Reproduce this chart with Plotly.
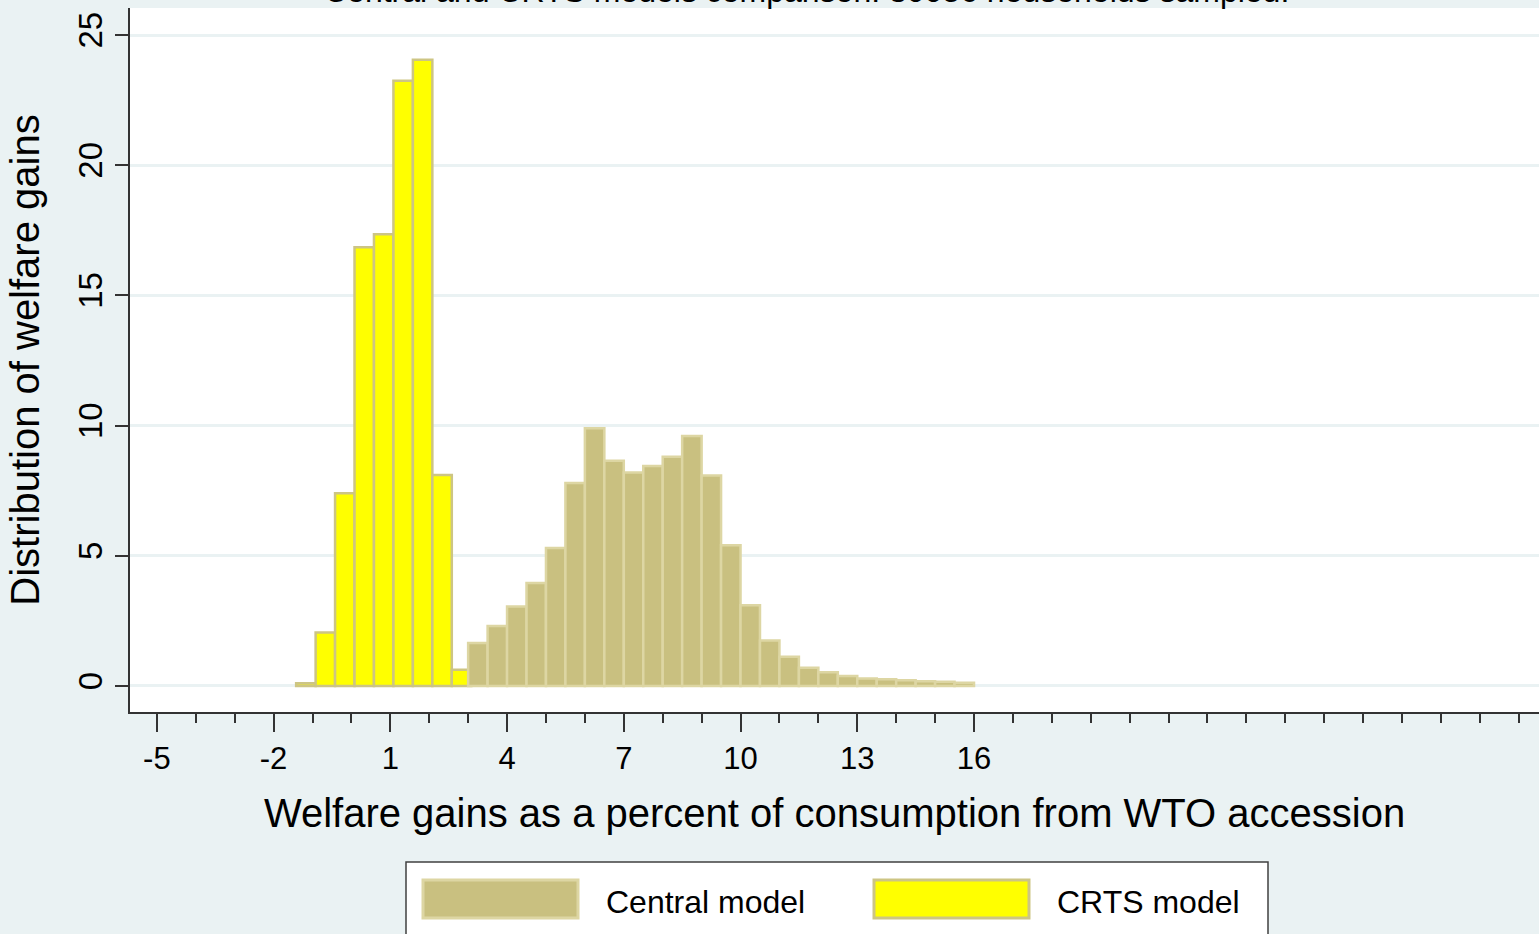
import plotly.graph_objects as go

# ---- data ----
bin_width = 0.5
crts_centers = [-1.17, -0.67, -0.17, 0.33, 0.83, 1.33, 1.83, 2.33, 2.83]
crts_values = [0.1, 2.05, 7.4, 16.85, 17.35, 23.25, 24.05, 8.1, 0.62]

central_centers = [3.25, 3.75, 4.25, 4.75, 5.25, 5.75, 6.25, 6.75, 7.25, 7.75,
                   8.25, 8.75, 9.25, 9.75, 10.25, 10.75, 11.25, 11.75, 12.25,
                   12.75, 13.25, 13.75, 14.25, 14.75, 15.25, 15.75]
central_values = [1.65, 2.3, 3.05, 3.95, 5.3, 7.8, 9.9, 8.65, 8.2, 8.45,
                  8.8, 9.6, 8.08, 5.4, 3.1, 1.75, 1.12, 0.7, 0.53, 0.38,
                  0.29, 0.26, 0.22, 0.18, 0.16, 0.12]

x_major_ticks = [-5, -2, 1, 4, 7, 10, 13, 16]
x_minor_ticks = list(range(-5, 31))
y_ticks = [0, 5, 10, 15, 20, 25]

title_text = "Central and CRTS models comparison: 30056 households sampled."
x_title = "Welfare gains as a percent of consumption from WTO accession"
y_title = "Distribution of welfare gains"
legend_labels = ["Central model", "CRTS model"]

KHAKI = "#c9c080"
KHAKI_LINE = "#ddd6a3"
YELLOW = "#ffff00"
YELLOW_LINE = "#cdc584"
BG = "#eaf2f3"
FONT = "Liberation Sans, Arial, sans-serif"

fig = go.Figure()
fig.add_trace(go.Bar(x=crts_centers, y=crts_values, width=bin_width,
                     name=legend_labels[1], showlegend=False,
                     marker=dict(color=YELLOW, line=dict(color=YELLOW_LINE, width=2.5))))
fig.add_trace(go.Bar(x=central_centers, y=central_values, width=bin_width,
                     name=legend_labels[0], showlegend=False,
                     marker=dict(color=KHAKI, line=dict(color=KHAKI_LINE, width=2.5))))

W, H = 1539, 934
L, R, T, B = 130, 0, 8, 222
pw, ph = W - L - R, H - T - B


def px(xp):
    return (xp - L) / pw


def py(yp):
    return (H - B - yp) / ph


fig.update_layout(
    width=W, height=H, barmode="overlay",
    margin=dict(l=L, r=R, t=T, b=B, autoexpand=False),
    paper_bgcolor=BG, plot_bgcolor="white",
    font=dict(family=FONT, color="black", size=32),
    xaxis=dict(range=[-5.69, 30.52], tickmode="array", tickvals=x_major_ticks,
               ticktext=[str(v) for v in x_major_ticks],
               ticks="outside", ticklen=18, tickwidth=1.5, tickcolor="#333333",
               tickfont=dict(size=31), showline=True, linecolor="#333333", linewidth=1.5,
               showgrid=False, zeroline=False,
               minor=dict(tickmode="array", tickvals=x_minor_ticks, ticks="outside",
                          ticklen=9, tickwidth=1.5, tickcolor="#333333", showgrid=False),
               title=dict(text=x_title, font=dict(size=40), standoff=24)),
    yaxis=dict(range=[-1.0, 26.04], tickmode="array", tickvals=y_ticks,
               ticks="outside", ticklen=13, tickwidth=1.5, tickcolor="#333333",
               tickangle=-90, tickfont=dict(size=33),
               showline=True, linecolor="#333333", linewidth=1.5,
               showgrid=True, gridcolor=BG, gridwidth=3, zeroline=False,
               title=dict(text=y_title, font=dict(size=40), standoff=20)),
)

# title (cut off at the top, as in the reference)
fig.add_annotation(text=title_text, xref="paper", yref="paper", x=px(806), y=py(-9),
                   xanchor="center", yanchor="middle", showarrow=False,
                   font=dict(size=32))

# legend box drawn below the plot
fig.add_shape(type="rect", xref="paper", yref="paper",
              x0=px(406), x1=px(1268), y0=py(960), y1=py(862),
              fillcolor="white", line=dict(color="#404040", width=1.5), layer="above")
sw = [(423, 578, KHAKI, KHAKI_LINE, 604, legend_labels[0]),
      (874, 1029, YELLOW, YELLOW_LINE, 1055, legend_labels[1])]
for x0, x1, fc, lc, tx, lab in sw:
    fig.add_shape(type="rect", xref="paper", yref="paper",
                  x0=px(x0), x1=px(x1), y0=py(918), y1=py(880),
                  fillcolor=fc, line=dict(color=lc, width=3), layer="above")
    fig.add_annotation(text=lab, xref="paper", yref="paper", x=px(tx), y=py(902),
                       xanchor="left", yanchor="middle", showarrow=False,
                       font=dict(size=32))

fig.write_html("out.html", config={"displayModeBar": False},
               post_script="document.body.style.margin='0px';")
